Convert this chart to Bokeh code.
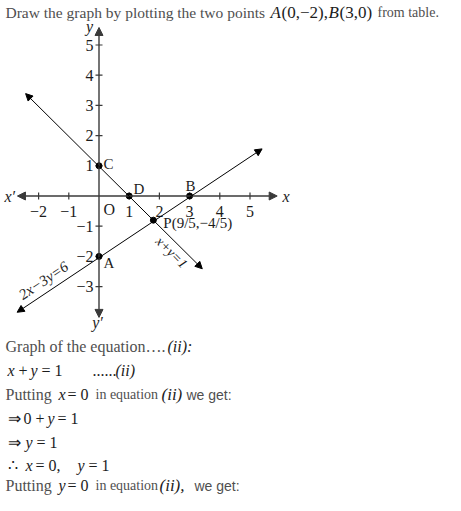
from bokeh.plotting import figure
from bokeh.models import Label, Arrow, NormalHead, Range1d
from bokeh.embed import file_html
from bokeh.resources import INLINE
from bokeh.core.properties import value

# ---------------- data ----------------
x_ticks = [-2, -1, 1, 2, 3, 4, 5]
x_tick_labels = ["\u22122", "\u22121", "1", "2", "3", "4", "5"]
y_ticks = [5, 4, 3, 2, 1, -1, -2, -3]
y_tick_labels = ["5", "4", "3", "2", "1", "\u22121", "\u22122", "\u22123"]

axis_x_span = [-2.70, 5.90]
axis_y_span = [-4.02, 5.58]

line1_x = [-2.43, 3.42]   # x + y = 1
line1_y = [3.39, -2.41]
line2_x = [-2.71, 5.40]   # 2x - 3y = 6
line2_y = [-3.85, 1.56]

pt_names = ["A", "B", "C", "D", "P(9/5,\u22124/5)"]
pt_x = [0, 3, 0, 1, 1.8]
pt_y = [-2, 0, 1, 0, -0.8]

line_names = ["x+y=1", "2x\u22123y=6"]

heading = ["Draw the graph by plotting the two points", "A", "(0,\u22122),", "B", "(3,0)", "from table."]
para = [
    ["Graph of the equation\u2026.", "(ii):"],
    ["x", "+", "y", "= 1", "......", "(ii)"],
    ["Putting", "x", "= 0", "in equation", "(ii)", "we get:"],
    ["\u21d2", "0 +", "y", "= 1"],
    ["\u21d2", "y", "= 1"],
    ["\u2234", "x", "= 0,", "y", "= 1"],
    ["Putting", "y", "= 0", "in equation", "(ii),", "we get:"],
]

# ---------------- layout ----------------
W, H = 445, 495
X0PX, Y0PX, UNIT = 98.5, 195.5, 30.2   # pixel of origin, pixels per unit


def X(px):
    return (px - X0PX) / UNIT


def Y(py):
    return (Y0PX - py) / UNIT


SERIF = "Liberation Serif"
SANS = "Liberation Sans"
GRAY = "#4f4f4f"
INK = "#1c1c1c"

p = figure(width=W, height=H,
           x_range=Range1d(X(0), X(W)),
           y_range=Range1d(Y(H), Y(0)),
           x_axis_type=None, y_axis_type=None,
           output_backend="svg", toolbar_location=None, min_border=0)
p.grid.visible = False
p.outline_line_color = None
p.background_fill_color = "white"

# axes with arrows
AX = "#3a3a3a"
p.add_layout(Arrow(x_start=axis_x_span[0], y_start=0, x_end=axis_x_span[1], y_end=0,
                   line_color=AX, line_width=1.4,
                   start=NormalHead(size=8, fill_color=AX, line_color=AX),
                   end=NormalHead(size=8, fill_color=AX, line_color=AX)))
p.add_layout(Arrow(x_start=0, y_start=axis_y_span[0], x_end=0, y_end=axis_y_span[1],
                   line_color=AX, line_width=1.4,
                   start=NormalHead(size=8, fill_color=AX, line_color=AX),
                   end=NormalHead(size=8, fill_color=AX, line_color=AX)))

tk = 3.5 / UNIT
p.segment(x0=x_ticks, y0=[-tk] * len(x_ticks), x1=x_ticks, y1=[tk] * len(x_ticks),
          line_color=AX, line_width=1.2)
p.segment(x0=[-tk] * len(y_ticks), y0=y_ticks, x1=[tk] * len(y_ticks), y1=y_ticks,
          line_color=AX, line_width=1.2)

p.text(x=x_ticks, y=[Y(211)] * len(x_ticks), text=x_tick_labels,
       text_align="center", text_baseline="middle", text_font=value(SERIF),
       text_font_size="16px", text_color=INK)
p.text(x=[X(93)] * len(y_ticks), y=y_ticks, text=y_tick_labels,
       text_align="right", text_baseline="middle", text_font=value(SERIF),
       text_font_size="16px", text_color=INK)
p.text(x=[X(103)], y=[Y(209)], text=["O"], text_align="left", text_baseline="middle",
       text_font=value(SERIF), text_font_size="16px", text_color=INK)

# axis names
for (px, py, t, al) in [(4, 196, "x\u2032", "left"), (282, 196, "x", "left"),
                        (89, 26, "y", "center"), (97, 322, "y\u2032", "center")]:
    p.add_layout(Label(x=X(px), y=Y(py), text=t, text_align=al, text_baseline="middle",
                       text_font=SERIF, text_font_style="italic", text_font_size="16px",
                       text_color=INK))

# graph lines with arrows
for lx, ly in [(line1_x, line1_y), (line2_x, line2_y)]:
    p.add_layout(Arrow(x_start=lx[0], y_start=ly[0], x_end=lx[1], y_end=ly[1],
                       line_color="black", line_width=1,
                       start=NormalHead(size=7, fill_color="black", line_color="black"),
                       end=NormalHead(size=7, fill_color="black", line_color="black")))

# points
p.scatter(pt_x, pt_y, size=6, color="black")
pt_off = [(4.5, -7, "left"), (1, 10.5, "center"), (4.5, 1.5, "left"),
          (4.3, 7.5, "left"), (10, -2.5, "left")]
for name, x, y, (dx, dy, al) in zip(pt_names, pt_x, pt_y, pt_off):
    p.add_layout(Label(x=x + dx / UNIT, y=y + dy / UNIT, text=name, text_align=al,
                       text_baseline="middle", text_font=SERIF, text_font_size="15px",
                       text_color=INK))

# line names
p.add_layout(Label(x=X(171), y=Y(252), text=line_names[0], angle=-45, angle_units="deg",
                   text_align="center", text_baseline="middle", text_font=SERIF,
                   text_font_style="italic", text_font_size="14px", text_color=INK))
p.add_layout(Label(x=X(43), y=Y(280), text=line_names[1], angle=33.7, angle_units="deg",
                   text_align="center", text_baseline="middle", text_font=SERIF,
                   text_font_style="italic", text_font_size="15px", text_color=INK))

# ---------------- text ----------------
ST = {
    "g": dict(text_font=SERIF, text_font_style="normal", text_color=GRAY, text_font_size="16px"),
    "h": dict(text_font=SERIF, text_font_style="normal", text_color=GRAY, text_font_size="15.5px"),
    "g2": dict(text_font=SERIF, text_font_style="normal", text_color=GRAY, text_font_size="14px"),
    "m": dict(text_font=SERIF, text_font_style="normal", text_color=INK, text_font_size="16px"),
    "M": dict(text_font=SERIF, text_font_style="normal", text_color=INK, text_font_size="17px"),
    "i": dict(text_font=SERIF, text_font_style="italic", text_color=INK, text_font_size="16px"),
    "I": dict(text_font=SERIF, text_font_style="italic", text_color=INK, text_font_size="17px"),
    "s": dict(text_font=SANS, text_font_style="normal", text_color=GRAY, text_font_size="14px"),
}

head_pos = [(5, "h"), (270, "I"), (281, "M"), (328, "I"), (339, "M"), (377, "g2")]
for t, (px, st) in zip(heading, head_pos):
    p.add_layout(Label(x=X(px), y=Y(12), text=t, text_baseline="middle", **ST[st]))

para_y = [346, 370, 394, 418, 442, 465, 485]
para_pos = [
    [(5, "g"), (167, "i")],
    [(7, "i"), (18, "m"), (30, "i"), (41, "m"), (92, "m"), (115, "i")],
    [(5, "g"), (58, "i"), (67, "m"), (95, "g2"), (161, "I"), (186, "s")],
    [(7, "m"), (23, "m"), (47, "i"), (57, "m")],
    [(7, "m"), (25, "i"), (36, "m")],
    [(7, "m"), (25, "i"), (35, "m"), (77, "i"), (88, "m")],
    [(5, "g"), (58, "i"), (67, "m"), (95, "g2"), (159, "I"), (194, "s")],
]
for row, py, pos in zip(para, para_y, para_pos):
    for t, (px, st) in zip(row, pos):
        p.add_layout(Label(x=X(px), y=Y(py), text=t, text_baseline="middle", **ST[st]))

open("out.html", "w").write(file_html(p, INLINE))
